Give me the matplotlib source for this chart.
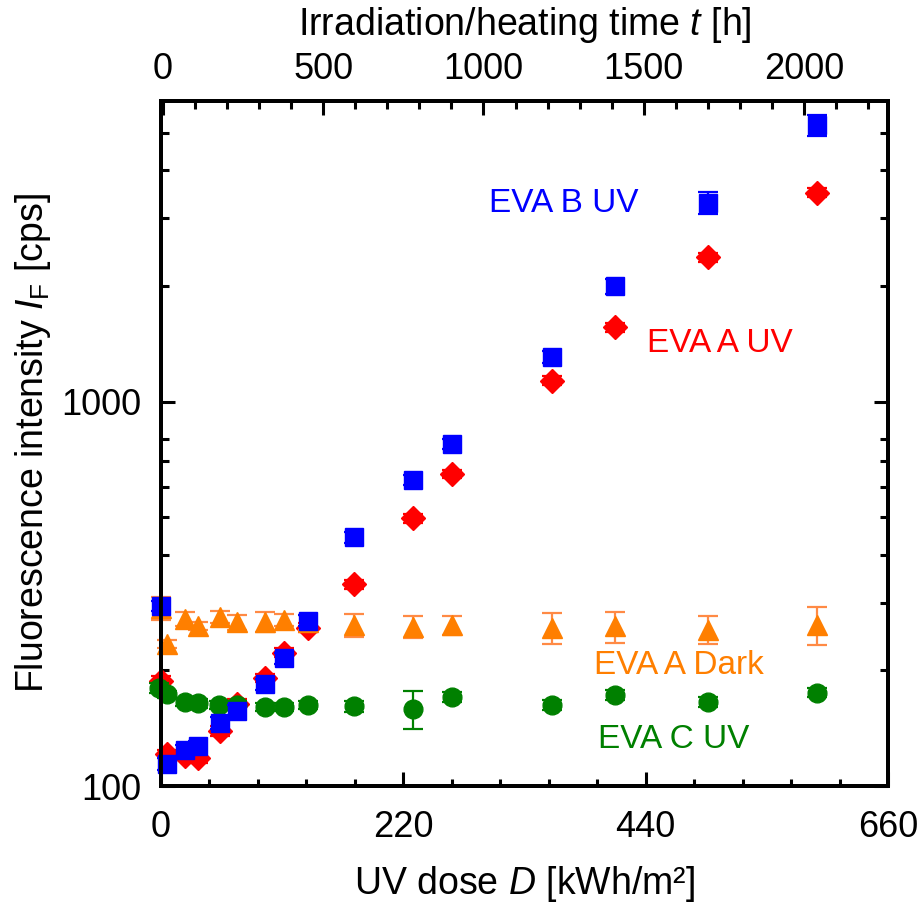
import matplotlib
matplotlib.use("Agg")
import matplotlib.pyplot as plt
from matplotlib.ticker import FixedLocator, NullFormatter

plt.rcParams['font.family'] = ['Liberation Sans', 'DejaVu Sans']
plt.rcParams['mathtext.fontset'] = 'custom'
plt.rcParams['mathtext.rm'] = 'Liberation Sans'
plt.rcParams['mathtext.it'] = 'Liberation Sans:italic'
plt.rcParams['mathtext.bf'] = 'Liberation Sans:bold'

# ---- data (UV dose in kWh/m², intensity in cps) ----
dose_b = [0, 5.2, 21.7, 33.8, 53.4, 69.1, 94.2, 111.4, 133.4, 175, 229, 264, 354.6, 412, 497, 595.7]
eva_b = [294, 114, 124, 127, 146, 157, 184, 215, 269, 443, 626, 776, 1304, 1993, 3283, 5234]
eva_b_err = [9, 4, 4, 4, 5, 5, 6, 7, 9, 14, 20, 25, 48, 92, 216, 340]

dose_a = [0, 5.2, 21.7, 33.8, 53.4, 69.1, 94.2, 111.4, 133.4, 175, 229, 264, 354.6, 412, 497, 595.7]
eva_a = [188, 121, 120, 118, 139, 163, 191, 222, 258, 335, 497, 648, 1134, 1561, 2376, 3495]
eva_a_err = [5, 3, 3, 3, 4, 5, 5, 6, 7, 9, 13, 17, 30, 42, 64, 95]

dose_d = [0, 5.2, 21.7, 33.8, 53.4, 69.1, 94.2, 111.4, 133.4, 175, 229, 264, 354.6, 412, 497, 595.7]
eva_dark = [290, 234, 272, 261, 275, 267, 267, 270, 267, 262, 259, 262, 258, 260, 255, 263]
eva_dark_err = [20, 6, 12, 6, 10, 12, 16, 10, 12, 18, 17, 15, 24, 24, 21, 30]

dose_c = [-2, 5.2, 21.7, 33.8, 53.0, 69.1, 94.2, 111.4, 133.4, 175, 229, 264, 354.6, 412, 497, 595.7]
eva_c = [180, 173, 165, 164, 162.5, 162, 160.6, 160.6, 162.5, 161, 158.4, 170.5, 162.5, 172.6, 165.8, 175]
eva_c_err = [5, 4, 4, 4, 4, 4, 4, 4, 4, 5, 18, 5, 5, 5, 5, 5]

x_ticks = [0, 220, 440, 660]
x_minor = [44, 88, 132, 176, 264, 308, 352, 396, 484, 528, 572, 616]
t_ticks = [0, 500, 1000, 1500, 2000]
t_minor = [100, 200, 300, 400, 600, 700, 800, 900, 1100, 1200, 1300, 1400,
           1600, 1700, 1800, 1900, 2100, 2200]
y_ticks = [100, 1000]
y_minor = [200, 300, 400, 500, 600, 700, 800, 2000, 3000, 4000, 5000]

BLUE = '#0000FF'
RED = '#FF0000'
ORANGE = '#FF7F00'
ORANGE_E = '#FF8A45'
GREEN = '#008000'

fig = plt.figure(figsize=(9.19, 9.10), dpi=100)
ax = fig.add_axes([161/919, 1 - 786/910, (888-161)/919, (786-101)/910])

common = dict(linestyle='none', capsize=7, elinewidth=1.6, capthick=1.6, clip_on=False)
ax.errorbar(dose_a, eva_a, yerr=eva_a_err, marker='D', ms=12, color=RED, ecolor=RED,
            zorder=3, **common)
ax.errorbar(dose_c, eva_c, yerr=eva_c_err, marker='o', ms=13.5, color=GREEN, ecolor=GREEN,
            zorder=4, **common)
ax.errorbar(dose_d, eva_dark, yerr=eva_dark_err, marker='^', ms=14, color=ORANGE, ecolor=ORANGE_E,
            zorder=5, **common)
ax.errorbar(dose_b, eva_b, yerr=eva_b_err, marker='s', ms=12.5, color=BLUE, ecolor=BLUE,
            zorder=6, **common)

ax.set_yscale('log')
ax.set_xlim(0, 660)
ax.set_ylim(100, 6050)

ax.xaxis.set_major_locator(FixedLocator(x_ticks))
ax.xaxis.set_minor_locator(FixedLocator(x_minor))
ax.set_xticklabels([str(v) for v in x_ticks])
ax.yaxis.set_major_locator(FixedLocator(y_ticks))
ax.yaxis.set_minor_locator(FixedLocator(y_minor))
ax.yaxis.set_minor_formatter(NullFormatter())
ax.set_yticklabels([str(v) for v in y_ticks])

ax.tick_params(axis='both', which='both', direction='in', labelsize=26, width=2.2)
ax.tick_params(axis='x', which='major', length=10, pad=17, top=False)
ax.tick_params(axis='x', which='minor', length=5, top=False)
ax.tick_params(axis='y', which='major', length=10, pad=14, right=True)
ax.tick_params(axis='y', which='minor', length=6, right=True)

for s in ax.spines.values():
    s.set_linewidth(2.8)

ax.set_xlabel('UV dose $D$ [kWh/m²]', fontsize=27, labelpad=14)
ax.set_ylabel('Fluorescence intensity $I_\\mathrm{F}$ [cps]', fontsize=27, labelpad=6)

# top axis: time
ax2 = ax.twiny()
ax2.set_xlim(-6, 2262)
ax2.xaxis.set_major_locator(FixedLocator(t_ticks))
ax2.xaxis.set_minor_locator(FixedLocator(t_minor))
ax2.set_xticklabels([str(v) for v in t_ticks])
ax2.tick_params(axis='x', which='both', direction='in', labelsize=26, width=2.2)
ax2.tick_params(axis='x', which='major', length=10, pad=10)
ax2.tick_params(axis='x', which='minor', length=6)
ax2.set_xlabel('Irradiation/heating time $t$ [h]', fontsize=27, labelpad=12)
for s in ax2.spines.values():
    s.set_linewidth(2.8)

# annotations
fig.text(564/919, 1 - 203/910, 'EVA B UV', color=BLUE, fontsize=24, ha='center', va='center')
fig.text(720/919, 1 - 343/910, 'EVA A UV', color=RED, fontsize=24, ha='center', va='center')
fig.text(679/919, 1 - 665/910, 'EVA A Dark', color=ORANGE, fontsize=24, ha='center', va='center')
fig.text(674/919, 1 - 739/910, 'EVA C UV', color=GREEN, fontsize=24, ha='center', va='center')

fig.savefig('out.png', dpi=100)
